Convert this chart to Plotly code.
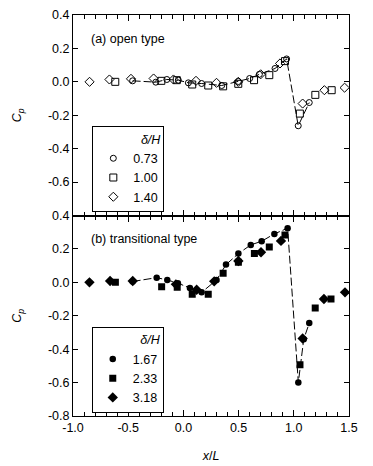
import plotly.graph_objects as go

# Panel (a) open type
a_c_x = [-0.46, -0.25, -0.15, -0.046, 0.045, 0.165, 0.347, 0.497, 0.60, 0.688, 0.83, 0.935, 1.04, 1.14]
a_c_y = [0.006, -0.002, 0.014, 0.01, -0.006, -0.01, -0.022, 0.002, 0.02, 0.045, 0.08, 0.137, -0.263, -0.124]
a_s_x = [-0.617, -0.2, -0.06, 0.08, 0.225, 0.36, 0.497, 0.64, 0.778, 0.92, 1.055, 1.195, 1.343]
a_s_y = [0.0, 0.006, 0.01, -0.016, -0.022, -0.027, -0.012, 0.01, 0.04, 0.124, -0.19, -0.078, -0.05]
a_d_x = [-0.85, -0.67, -0.475, -0.27, -0.09, 0.114, 0.30, 0.497, 0.70, 0.875, 1.08, 1.277, 1.46]
a_d_y = [0.0, 0.014, 0.018, 0.02, 0.014, 0.006, -0.006, 0.0, 0.045, 0.11, -0.13, -0.05, -0.035]

# Panel (b) transitional type
b_c_x = [-0.46, -0.242, -0.146, -0.05, 0.059, 0.165, 0.30, 0.386, 0.498, 0.61, 0.709, 0.824, 0.944, 1.041, 1.09, 1.14]
b_c_y = [0.005, 0.028, 0.014, -0.005, -0.034, -0.06, 0.014, 0.106, 0.172, 0.224, 0.246, 0.29, 0.324, -0.6, -0.34, -0.244]
b_s_x = [-0.616, -0.197, -0.056, 0.08, 0.225, 0.36, 0.498, 0.643, 0.778, 0.92, 1.056, 1.194, 1.337]
b_s_y = [0.0, -0.026, -0.03, -0.072, -0.072, 0.054, 0.12, 0.172, 0.212, 0.284, -0.494, -0.154, -0.1]
b_d_x = [-0.851, -0.664, -0.459, -0.068, 0.12, 0.279, 0.498, 0.703, 0.884, 1.08, 1.273, 1.464]
b_d_y = [0.0, 0.008, 0.008, -0.012, -0.044, 0.006, 0.128, 0.18, 0.248, -0.336, -0.1, -0.06]

labels_a = ["0.73", "1.00", "1.40"]
labels_b = ["1.67", "2.33", "3.18"]
y_ticks = [-0.8, -0.6, -0.4, -0.2, 0.0, 0.2, 0.4]
x_ticks = [-1.0, -0.5, 0.0, 0.5, 1.0, 1.5]

FONT = "Liberation Sans, Arial, sans-serif"
FS = 12.5
DASH = "8px,3px"

fig = go.Figure()

# panel a
fig.add_trace(go.Scatter(x=a_c_x, y=a_c_y, mode="lines", line=dict(color="black", width=1, dash=DASH),
                         xaxis="x2", yaxis="y2", showlegend=False, hoverinfo="skip"))
for xs, ys, sym, sz, lab in [(a_c_x, a_c_y, "circle-open", 6, labels_a[0]),
                             (a_s_x, a_s_y, "square-open", 7, labels_a[1]),
                             (a_d_x, a_d_y, "diamond-open", 7, labels_a[2])]:
    fig.add_trace(go.Scatter(x=xs, y=ys, mode="markers", name=lab, xaxis="x2", yaxis="y2",
                             marker=dict(symbol=sym, size=sz, color="black", line=dict(width=1, color="black")),
                             legend="legend2"))

# panel b
fig.add_trace(go.Scatter(x=b_c_x, y=b_c_y, mode="lines", line=dict(color="black", width=1, dash=DASH),
                         xaxis="x", yaxis="y", showlegend=False, hoverinfo="skip"))
for xs, ys, sym, sz, lab in [(b_c_x, b_c_y, "circle", 6.5, labels_b[0]),
                             (b_s_x, b_s_y, "square", 7, labels_b[1]),
                             (b_d_x, b_d_y, "diamond", 8, labels_b[2])]:
    fig.add_trace(go.Scatter(x=xs, y=ys, mode="markers", name=lab, xaxis="x", yaxis="y",
                             marker=dict(symbol=sym, size=sz, color="black", line=dict(width=0)),
                             legend="legend"))

def fmt(v):
    return f"{v:.1f}"

axis_common = dict(showline=True, linecolor="black", linewidth=1, mirror="allticks",
                   ticks="inside", tickcolor="black", tickwidth=1, showgrid=False, zeroline=False,
                   automargin=False, tickfont=dict(family=FONT, size=FS, color="black"))

xcommon = dict(axis_common, range=[-1.0, 1.5], tickvals=x_ticks, ticktext=[fmt(v) for v in x_ticks],
               ticklen=6, minor=dict(dtick=0.1, tick0=0, ticks="inside", ticklen=4, tickcolor="black", showgrid=False))

ytitle = dict(text="<i>C<sub>p</sub></i>", standoff=23, font=dict(family=FONT, size=FS))

legend_common = dict(xanchor="left", yanchor="middle", bgcolor="white",
                     bordercolor="black", borderwidth=1, font=dict(family=FONT, size=FS),
                     title=dict(text="<i>δ/H</i>", side="top right", font=dict(family=FONT, size=FS)),
                     itemwidth=30, tracegroupgap=0)

# page body adds an 8px offset; figure sized so the plot lands where the reference has it
fig.update_layout(
    width=365, height=458,
    margin=dict(l=65, r=24, t=7, b=50),
    paper_bgcolor="white", plot_bgcolor="white",
    font=dict(family=FONT, size=FS, color="black"),
    xaxis=dict(xcommon, anchor="y", domain=[0, 1],
               title=dict(text="<i>x</i>/<i>L</i>", standoff=17, font=dict(family=FONT, size=FS))),
    xaxis2=dict(xcommon, anchor="y2", matches="x", showticklabels=False),
    yaxis=dict(axis_common, domain=[0, 0.5], range=[-0.8, 0.4], tickvals=y_ticks,
               ticktext=[fmt(v) for v in y_ticks], ticklen=5, title=ytitle),
    yaxis2=dict(axis_common, domain=[0.5, 1], range=[-0.8, 0.4], tickvals=y_ticks[1:],
                ticktext=[fmt(v) for v in y_ticks[1:]], ticklen=5, title=ytitle),
    legend=dict(legend_common, x=0.068, y=0.1147),
    legend2=dict(legend_common, x=0.07, y=0.615),
    annotations=[
        dict(text="(a) open type", xref="paper", yref="paper", x=0.058, y=0.939, xanchor="left",
             yanchor="middle", showarrow=False, font=dict(family=FONT, size=FS)),
        dict(text="(b) transitional type", xref="paper", yref="paper", x=0.058, y=0.441, xanchor="left",
             yanchor="middle", showarrow=False, font=dict(family=FONT, size=FS)),
    ],
)

fig.write_html("out.html")
